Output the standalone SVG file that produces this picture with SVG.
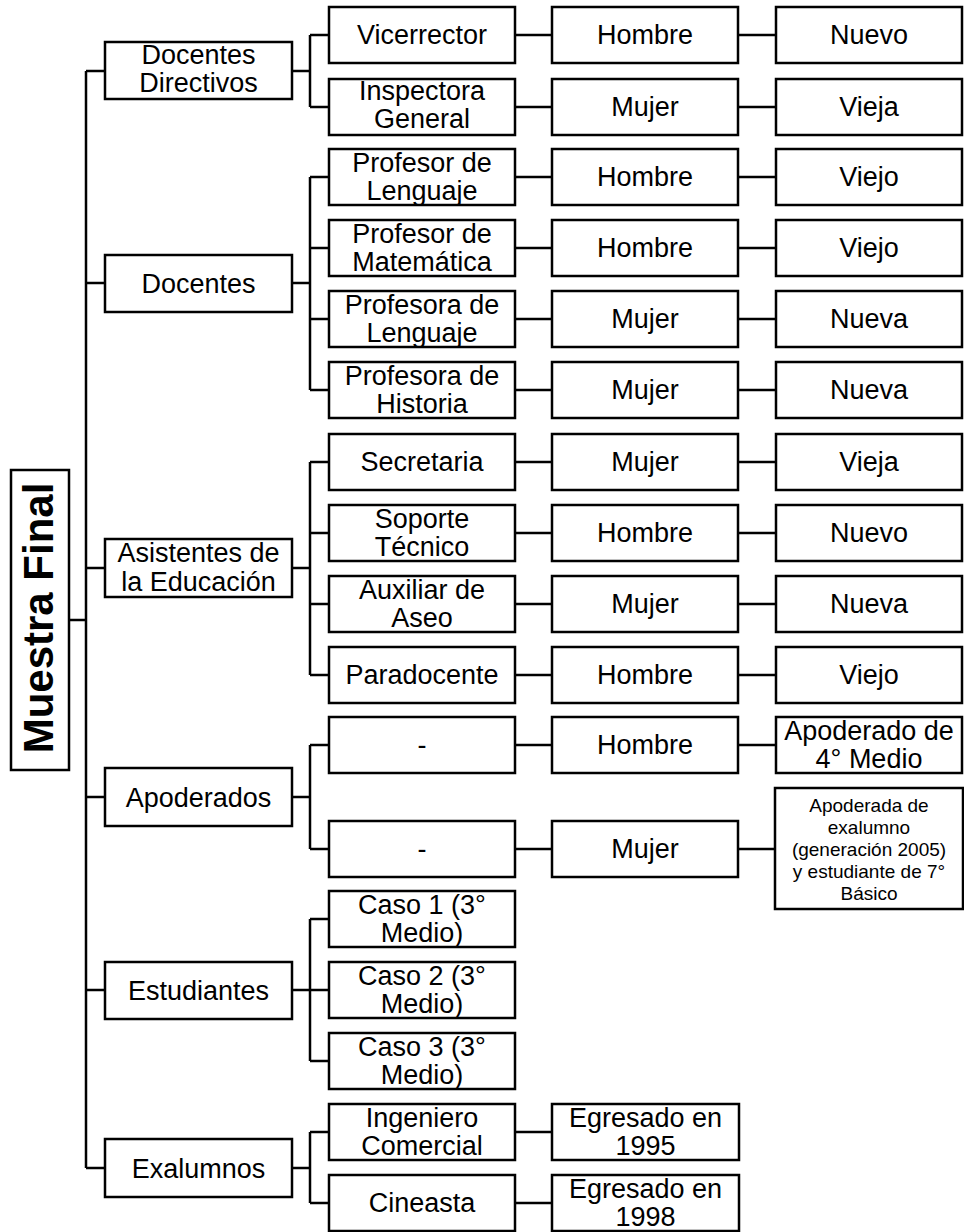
<svg xmlns="http://www.w3.org/2000/svg" width="964" height="1232" viewBox="0 0 964 1232">
<style>
.b{fill:#fff;stroke:#000;stroke-width:2.5}
.t{font-family:"Liberation Sans",Arial,sans-serif;font-size:27px;fill:#000;text-anchor:middle}
.s{font-family:"Liberation Sans",Arial,sans-serif;font-size:19px;fill:#000;text-anchor:middle}
.r{font-family:"Liberation Sans",Arial,sans-serif;font-size:42px;font-weight:bold;fill:#000;text-anchor:middle}
.c{fill:none;stroke:#000;stroke-width:2.5}
</style>
<rect width="964" height="1232" fill="#fff"/>
<g id="connectors" class="c">
<path d="M69 620H86M86 71V1168"/>
<path d="M86 71H105M86 283H105M86 568H105M86 797H105M86 990H105M86 1168H105"/>
<path d="M292 71H310M310 35V107M310 35H329M310 107H329"/>
<path d="M292 283H310M310 177V390M310 177H329M310 248H329M310 319H329M310 390H329"/>
<path d="M292 568H310M310 462V675M310 462H329M310 533H329M310 604H329M310 675H329"/>
<path d="M292 797H310M310 745V849M310 745H329M310 849H329"/>
<path d="M292 990H310M310 919V1061M310 919H329M310 990H329M310 1061H329"/>
<path d="M292 1168H310M310 1132V1203M310 1132H329M310 1203H329"/>
<path d="M515 35H552M515 107H552M515 177H552M515 248H552M515 319H552M515 390H552M515 462H552M515 533H552M515 604H552M515 675H552M515 745H552M515 849H552M515 1132H552M515 1203H552"/>
<path d="M738 35H776M738 107H776M738 177H776M738 248H776M738 319H776M738 390H776M738 462H776M738 533H776M738 604H776M738 675H776M738 745H776M738 849H775"/>
</g>
<g id="root"><rect class="b" x="11" y="470" width="58" height="300"/><text class="r" transform="translate(53,618) rotate(-90)">Muestra Final</text></g>
<g id="cat-directivos"><rect class="b" x="105" y="42" width="187" height="57"/><text class="t" x="198.5"><tspan x="198.5" y="64">Docentes</tspan><tspan x="198.5" y="92">Directivos</tspan></text></g>
<g id="cat-docentes"><rect class="b" x="105" y="255" width="187" height="57"/><text class="t" x="198.5" y="293">Docentes</text></g>
<g id="cat-asistentes"><rect class="b" x="105" y="539" width="187" height="58"/><text class="t" x="198.5"><tspan x="198.5" y="562">Asistentes de</tspan><tspan x="198.5" y="591">la Educación</tspan></text></g>
<g id="cat-apoderados"><rect class="b" x="105" y="768" width="187" height="58"/><text class="t" x="198.5" y="807">Apoderados</text></g>
<g id="cat-estudiantes"><rect class="b" x="105" y="962" width="187" height="57"/><text class="t" x="198.5" y="1000">Estudiantes</text></g>
<g id="cat-exalumnos"><rect class="b" x="105" y="1139" width="187" height="58"/><text class="t" x="198.5" y="1178">Exalumnos</text></g>

<g id="r0-a"><rect class="b" x="329" y="7" width="186" height="56"/><text class="t" x="422" y="44">Vicerrector</text></g>
<g id="r0-b"><rect class="b" x="552" y="7" width="186" height="56"/><text class="t" x="645" y="44">Hombre</text></g>
<g id="r0-c"><rect class="b" x="776" y="7" width="186" height="56"/><text class="t" x="869" y="44">Nuevo</text></g>

<g id="r1-a"><rect class="b" x="329" y="79" width="186" height="56"/><text class="t"><tspan x="422" y="100">Inspectora</tspan><tspan x="422" y="128">General</tspan></text></g>
<g id="r1-b"><rect class="b" x="552" y="79" width="186" height="56"/><text class="t" x="645" y="116">Mujer</text></g>
<g id="r1-c"><rect class="b" x="776" y="79" width="186" height="56"/><text class="t" x="869" y="116">Vieja</text></g>

<g id="r2-a"><rect class="b" x="329" y="149" width="186" height="56"/><text class="t"><tspan x="422" y="172">Profesor de</tspan><tspan x="422" y="200">Lenguaje</tspan></text></g>
<g id="r2-b"><rect class="b" x="552" y="149" width="186" height="56"/><text class="t" x="645" y="186">Hombre</text></g>
<g id="r2-c"><rect class="b" x="776" y="149" width="186" height="56"/><text class="t" x="869" y="186">Viejo</text></g>

<g id="r3-a"><rect class="b" x="329" y="220" width="186" height="56"/><text class="t"><tspan x="422" y="243">Profesor de</tspan><tspan x="422" y="271">Matemática</tspan></text></g>
<g id="r3-b"><rect class="b" x="552" y="220" width="186" height="56"/><text class="t" x="645" y="257">Hombre</text></g>
<g id="r3-c"><rect class="b" x="776" y="220" width="186" height="56"/><text class="t" x="869" y="257">Viejo</text></g>

<g id="r4-a"><rect class="b" x="329" y="291" width="186" height="56"/><text class="t"><tspan x="422" y="314">Profesora de</tspan><tspan x="422" y="342">Lenguaje</tspan></text></g>
<g id="r4-b"><rect class="b" x="552" y="291" width="186" height="56"/><text class="t" x="645" y="328">Mujer</text></g>
<g id="r4-c"><rect class="b" x="776" y="291" width="186" height="56"/><text class="t" x="869" y="328">Nueva</text></g>

<g id="r5-a"><rect class="b" x="329" y="362" width="186" height="56"/><text class="t"><tspan x="422" y="385">Profesora de</tspan><tspan x="422" y="413">Historia</tspan></text></g>
<g id="r5-b"><rect class="b" x="552" y="362" width="186" height="56"/><text class="t" x="645" y="399">Mujer</text></g>
<g id="r5-c"><rect class="b" x="776" y="362" width="186" height="56"/><text class="t" x="869" y="399">Nueva</text></g>

<g id="r6-a"><rect class="b" x="329" y="434" width="186" height="56"/><text class="t" x="422" y="471">Secretaria</text></g>
<g id="r6-b"><rect class="b" x="552" y="434" width="186" height="56"/><text class="t" x="645" y="471">Mujer</text></g>
<g id="r6-c"><rect class="b" x="776" y="434" width="186" height="56"/><text class="t" x="869" y="471">Vieja</text></g>

<g id="r7-a"><rect class="b" x="329" y="505" width="186" height="56"/><text class="t"><tspan x="422" y="528">Soporte</tspan><tspan x="422" y="556">Técnico</tspan></text></g>
<g id="r7-b"><rect class="b" x="552" y="505" width="186" height="56"/><text class="t" x="645" y="542">Hombre</text></g>
<g id="r7-c"><rect class="b" x="776" y="505" width="186" height="56"/><text class="t" x="869" y="542">Nuevo</text></g>

<g id="r8-a"><rect class="b" x="329" y="576" width="186" height="56"/><text class="t"><tspan x="422" y="599">Auxiliar de</tspan><tspan x="422" y="627">Aseo</tspan></text></g>
<g id="r8-b"><rect class="b" x="552" y="576" width="186" height="56"/><text class="t" x="645" y="613">Mujer</text></g>
<g id="r8-c"><rect class="b" x="776" y="576" width="186" height="56"/><text class="t" x="869" y="613">Nueva</text></g>

<g id="r9-a"><rect class="b" x="329" y="647" width="186" height="56"/><text class="t" x="422" y="684">Paradocente</text></g>
<g id="r9-b"><rect class="b" x="552" y="647" width="186" height="56"/><text class="t" x="645" y="684">Hombre</text></g>
<g id="r9-c"><rect class="b" x="776" y="647" width="186" height="56"/><text class="t" x="869" y="684">Viejo</text></g>

<g id="r10-a"><rect class="b" x="329" y="717" width="186" height="56"/><text class="t" x="422" y="754">-</text></g>
<g id="r10-b"><rect class="b" x="552" y="717" width="186" height="56"/><text class="t" x="645" y="754">Hombre</text></g>
<g id="r10-c"><rect class="b" x="776" y="717" width="186" height="56"/><text class="t"><tspan x="869" y="740">Apoderado de</tspan><tspan x="869" y="768">4° Medio</tspan></text></g>

<g id="r11-a"><rect class="b" x="329" y="821" width="186" height="56"/><text class="t" x="422" y="858">-</text></g>
<g id="r11-b"><rect class="b" x="552" y="821" width="186" height="56"/><text class="t" x="645" y="858">Mujer</text></g>
<g id="r11-c"><rect class="b" x="775" y="788" width="188" height="121"/><text class="s"><tspan x="869" y="812">Apoderada de</tspan><tspan x="869" y="834">exalumno</tspan><tspan x="869" y="856">(generación 2005)</tspan><tspan x="869" y="878">y estudiante de 7°</tspan><tspan x="869" y="900">Básico</tspan></text></g>

<g id="r12-a"><rect class="b" x="329" y="891" width="186" height="56"/><text class="t"><tspan x="422" y="914">Caso 1 (3°</tspan><tspan x="422" y="942">Medio)</tspan></text></g>
<g id="r13-a"><rect class="b" x="329" y="962" width="186" height="56"/><text class="t"><tspan x="422" y="985">Caso 2 (3°</tspan><tspan x="422" y="1013">Medio)</tspan></text></g>
<g id="r14-a"><rect class="b" x="329" y="1033" width="186" height="56"/><text class="t"><tspan x="422" y="1056">Caso 3 (3°</tspan><tspan x="422" y="1084">Medio)</tspan></text></g>

<g id="r15-a"><rect class="b" x="329" y="1104" width="186" height="56"/><text class="t"><tspan x="422" y="1127">Ingeniero</tspan><tspan x="422" y="1155">Comercial</tspan></text></g>
<g id="r15-b"><rect class="b" x="552" y="1104" width="187" height="56"/><text class="t"><tspan x="645.5" y="1127">Egresado en</tspan><tspan x="645.5" y="1155">1995</tspan></text></g>
<g id="r16-a"><rect class="b" x="329" y="1175" width="186" height="56"/><text class="t" x="422" y="1212">Cineasta</text></g>
<g id="r16-b"><rect class="b" x="552" y="1175" width="187" height="56"/><text class="t"><tspan x="645.5" y="1198">Egresado en</tspan><tspan x="645.5" y="1226">1998</tspan></text></g>
</svg>
